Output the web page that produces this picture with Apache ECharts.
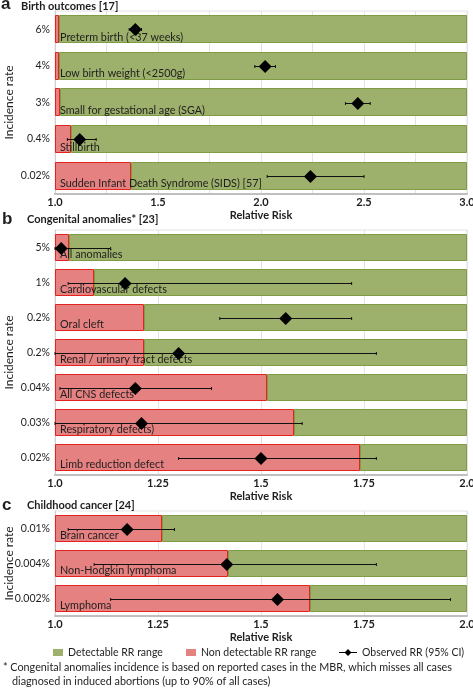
<!DOCTYPE html>
<html><head><meta charset="utf-8">
<script src="https://cdn.jsdelivr.net/npm/echarts@6/dist/echarts.min.js"></script>
<style>html,body{margin:0;padding:0;background:#fff}#c{width:473px;height:697px}</style>
</head><body><div id="c"></div>
<script>
// ---------- data ----------
// Panel a: Birth outcomes [17]
const outcomesA = ['Preterm birth (<37 weeks)', 'Low birth weight (<2500g)', 'Small for gestational age (SGA)', 'Stillbirth', 'Sudden Infant Death Syndrome (SIDS) [57]'];
const ratesA = ['6%', '4%', '3%', '0.4%', '0.02%'];
const limitA = [1.02, 1.02, 1.025, 1.08, 1.37];   // end of non-detectable RR range
const rrA = [1.39, 2.02, 2.47, 1.12, 2.24];
const loA = [1.36, 1.97, 2.41, 1.06, 2.03];
const hiA = [1.42, 2.07, 2.53, 1.20, 2.50];
const ticksA = [1.0, 1.5, 2.0, 2.5, 3.0];

// Panel b: Congenital anomalies* [23]
const outcomesB = ['All anomalies', 'Cardiovascular defects', 'Oral cleft', 'Renal / urinary tract defects', 'All CNS defects', 'Respiratory defects)', 'Limb reduction defect'];
const ratesB = ['5%', '1%', '0.2%', '0.2%', '0.04%', '0.03%', '0.02%'];
const limitB = [1.035, 1.095, 1.215, 1.215, 1.515, 1.58, 1.74];
const rrB = [1.015, 1.17, 1.56, 1.30, 1.195, 1.21, 1.50];
const loB = [1.0, 1.032, 1.40, 1.0, 1.012, 1.0, 1.30];
const hiB = [1.135, 1.72, 1.72, 1.78, 1.38, 1.60, 1.78];
const ticksB = [1.0, 1.25, 1.5, 1.75, 2.0];

// Panel c: Childhood cancer [24]
const outcomesC = ['Brain cancer', 'Non-Hodgkin lymphoma', 'Lymphoma'];
const ratesC = ['0.01%', '0.004%', '0.002%'];
const limitC = [1.26, 1.42, 1.62];
const rrC = [1.175, 1.417, 1.54];
const loC = [1.032, 1.095, 1.135];
const hiC = [1.29, 1.78, 1.96];
const ticksC = [1.0, 1.25, 1.5, 1.75, 2.0];

// ---------- styling ----------
const FONT = 'Lato, "Open Sans", sans-serif';
const TXT = '#1e1e1e';
const GREEN = '#9db06c', GREEN_B = '#7f9c45';
const RED = '#e58181', RED_B = '#e2231f';
const NAME_DET = 'Detectable RR range', NAME_NON = 'Non detectable RR range', NAME_OBS = 'Observed RR (95% CI)';
const BAR = 0.77;

function fmtTick(v) { return Number.isInteger(v) ? v.toFixed(1) : String(v); }

function rectItem(fill, stroke) {
  return function (params, api) {
    const s = api.value(0), e = api.value(1), i = api.value(2);
    const p0 = api.coord([s, i]), p1 = api.coord([e, i]);
    const h = api.size([0, 1])[1] * BAR;
    return { type: 'rect', shape: { x: Math.round(p0[0]) + 0.5, y: Math.round(p0[1] - h / 2) + 0.5, width: Math.round(p1[0] - p0[0]) - 1, height: Math.round(h) - 1 },
      style: { fill: fill, stroke: stroke, lineWidth: 1 } };
  };
}
function labelItem(params, api) {
  const i = api.value(1);
  const p = api.coord([api.value(0), i]);
  const h = api.size([0, 1])[1] * BAR;
  return { type: 'text', style: { text: api.value(2), x: p[0] + 5, y: p[1] + h / 2 - 6, fill: TXT, font: '10.8px ' + FONT, verticalAlign: 'middle', align: 'left' } };
}
function obsItem(params, api) {
  const rr = api.value(0), lo = api.value(1), hi = api.value(2), i = api.value(3);
  const c = api.coord([rr, i]), a = api.coord([lo, i]), b = api.coord([hi, i]);
  const y = Math.round(c[1]) + 0.5;
  const dw = 6.5, dh = 6.5;
  return { type: 'group', children: [
    { type: 'line', shape: { x1: a[0], y1: y, x2: b[0], y2: y }, style: { stroke: '#111', lineWidth: 1 } },
    { type: 'line', shape: { x1: a[0], y1: y - 1.5, x2: a[0], y2: y + 1.5 }, style: { stroke: '#111', lineWidth: 1 } },
    { type: 'line', shape: { x1: b[0], y1: y - 1.5, x2: b[0], y2: y + 1.5 }, style: { stroke: '#111', lineWidth: 1 } },
    { type: 'polygon', shape: { points: [[c[0], y - dh], [c[0] + dw, y], [c[0], y + dh], [c[0] - dw, y]] }, style: { fill: '#000' } }
  ] };
}

const gridBase = { left: 55, right: 6, outerBoundsMode: 'none', containLabel: false, show: true, borderColor: '#e3e3e3', borderWidth: 1, backgroundColor: 'transparent' };
const grids = [
  Object.assign({ top: 11, height: 183 }, gridBase),
  Object.assign({ top: 230, height: 245 }, gridBase),
  Object.assign({ top: 511, height: 105 }, gridBase)
];
const panels = [
  { out: outcomesA, rates: ratesA, lim: limitA, rr: rrA, lo: loA, hi: hiA, ticks: ticksA },
  { out: outcomesB, rates: ratesB, lim: limitB, rr: rrB, lo: loB, hi: hiB, ticks: ticksB },
  { out: outcomesC, rates: ratesC, lim: limitC, rr: rrC, lo: loC, hi: hiC, ticks: ticksC }
];

const xAxes = [], yAxes = [], series = [];
panels.forEach(function (P, k) {
  const mn = P.ticks[0], mx = P.ticks[P.ticks.length - 1];
  const step = P.ticks[1] - P.ticks[0];
  xAxes.push({ type: 'value', gridIndex: k, min: mn, max: mx, interval: step,
    name: 'Relative Risk', nameLocation: 'middle', nameGap: 16, nameMoveOverlap: false,
    nameTextStyle: { fontFamily: FONT, fontSize: 11, fontWeight: 'bold', color: TXT, verticalAlign: 'top' },
    axisLine: { show: true, lineStyle: { color: '#bfbfbf', width: 2 } }, axisTick: { show: false },
    axisLabel: { formatter: fmtTick, fontFamily: FONT, fontSize: 11, fontWeight: 'bold', color: TXT, margin: 3 },
    splitLine: { show: true, lineStyle: { color: '#e3e3e3', width: 1 } },
    minorTick: { show: false, splitNumber: k === 0 ? 2 : 1 },
    minorSplitLine: { show: k === 0, lineStyle: { color: '#e3e3e3', width: 1 } }
  });
  yAxes.push({ type: 'category', gridIndex: k, inverse: true, data: P.rates,
    name: 'Incidence rate', nameLocation: 'middle', nameRotate: 90, nameGap: 40, nameMoveOverlap: false,
    nameTextStyle: { fontFamily: FONT, fontSize: 12, color: TXT },
    axisLine: { show: true, lineStyle: { color: '#d0d0d0', width: 1 } }, axisTick: { show: false },
    axisLabel: { fontFamily: FONT, fontSize: 10.5, color: TXT, margin: 5 },
    splitLine: { show: false }
  });
  series.push({ type: 'custom', name: NAME_NON, xAxisIndex: k, yAxisIndex: k, renderItem: rectItem(RED, RED_B),
    itemStyle: { color: RED, borderColor: RED_B }, encode: { x: [0, 1], y: 2 },
    data: P.lim.map(function (v, i) { return [mn, v, i]; }), z: 2 });
  series.push({ type: 'custom', name: NAME_DET, xAxisIndex: k, yAxisIndex: k, renderItem: rectItem(GREEN, GREEN_B),
    itemStyle: { color: GREEN, borderColor: GREEN_B }, encode: { x: [0, 1], y: 2 },
    data: P.lim.map(function (v, i) { return [v, mx, i]; }), z: 2 });
  series.push({ type: 'custom', name: 'labels' + k, xAxisIndex: k, yAxisIndex: k, renderItem: labelItem, silent: true,
    encode: { x: 0, y: 1 }, data: P.out.map(function (t, i) { return [mn, i, t]; }), z: 3 });
  series.push({ type: 'custom', name: NAME_OBS, xAxisIndex: k, yAxisIndex: k, renderItem: obsItem,
    itemStyle: { color: '#000' }, encode: { x: [0, 1, 2], y: 3 },
    data: P.rr.map(function (v, i) { return [v, P.lo[i], P.hi[i], i]; }), z: 4 });
});

const titleStyle = { fontFamily: FONT, fontSize: 11, fontWeight: 'bold', color: TXT };
const letterStyle = { fontFamily: '"Liberation Sans", Arial, sans-serif', fontSize: 17, fontWeight: 'bold', color: TXT };
const noteStyle = { fontFamily: FONT, fontSize: 10.8, fontWeight: 'normal', color: TXT };
const legText = { fontFamily: FONT, fontSize: 10.5, color: TXT };

const option = {
  animation: false,
  backgroundColor: '#fff',
  title: [
    { text: 'a', left: 1, top: -4, textStyle: letterStyle, padding: 0 },
    { text: 'Birth outcomes [17]', left: 21, top: 1, textStyle: titleStyle, padding: 0 },
    { text: 'b', left: 2, top: 211, textStyle: letterStyle, padding: 0 },
    { text: 'Congenital anomalies* [23]', left: 27, top: 214, textStyle: titleStyle, padding: 0 },
    { text: 'c', left: 2, top: 497, textStyle: letterStyle, padding: 0 },
    { text: 'Childhood cancer [24]', left: 27, top: 500, textStyle: titleStyle, padding: 0 },
    { text: '* Congenital anomalies incidence is based on reported cases in the MBR, which misses all cases', left: 3, top: 662, textStyle: noteStyle, padding: 0 },
    { text: 'diagnosed in induced abortions (up to 90% of all cases)', left: 12, top: 676, textStyle: noteStyle, padding: 0 }
  ],
  legend: [
    { left: 53, top: 647, itemWidth: 10, itemHeight: 7, itemGap: 0, padding: 0, textStyle: legText, icon: 'rect', selectedMode: false,
      data: [{ name: NAME_DET, itemStyle: { color: GREEN, borderWidth: 0 } }] },
    { left: 186, top: 647, itemWidth: 10, itemHeight: 7, itemGap: 0, padding: 0, textStyle: legText, icon: 'rect', selectedMode: false,
      data: [{ name: NAME_NON, itemStyle: { color: RED, borderWidth: 0 } }] },
    { left: 339, top: 647, itemWidth: 18, itemHeight: 8, itemGap: 0, padding: 0, textStyle: legText, selectedMode: false,
      data: [{ name: NAME_OBS, icon: 'path://M0,3.5H6L9,0.5L12,3.5H18V4.5H12L9,7.5L6,4.5H0Z', itemStyle: { color: '#000' } }] }
  ],
  grid: grids,
  xAxis: xAxes,
  yAxis: yAxes,
  series: series
};

const chart = echarts.init(document.getElementById('c'), null, { renderer: 'canvas' });
chart.setOption(option);
</script>
</body></html>
